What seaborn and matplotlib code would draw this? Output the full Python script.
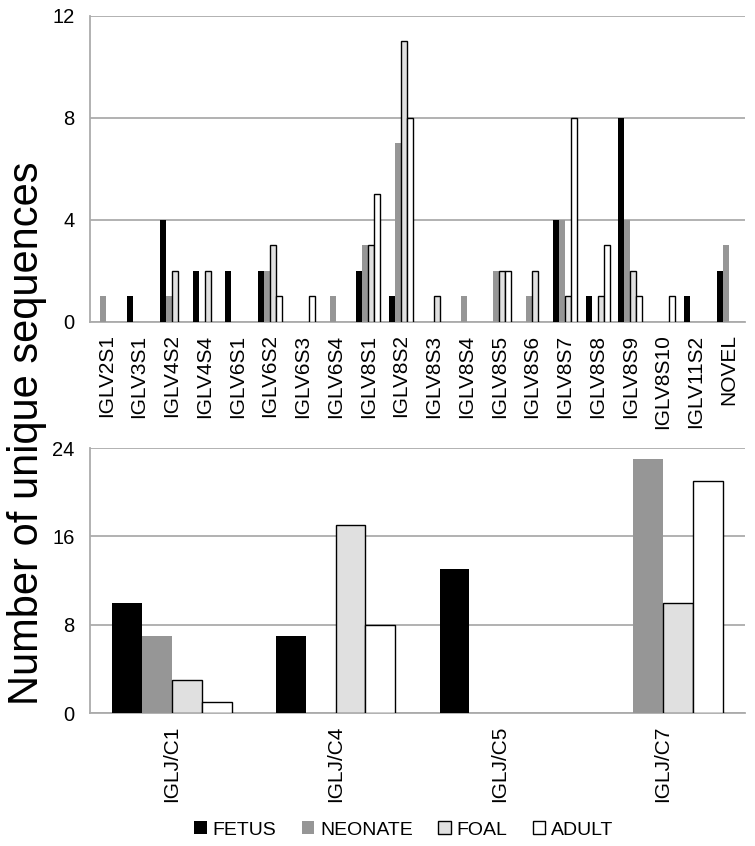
import matplotlib
matplotlib.use('Agg')
import matplotlib.pyplot as plt
from matplotlib.patches import Patch
from matplotlib.ticker import FixedLocator
import numpy as np
import pandas as pd
import seaborn as sns

# chart data
groups = ['FETUS', 'NEONATE', 'FOAL', 'ADULT']

v_genes = ['IGLV2S1', 'IGLV3S1', 'IGLV4S2', 'IGLV4S4', 'IGLV6S1', 'IGLV6S2',
           'IGLV6S3', 'IGLV6S4', 'IGLV8S1', 'IGLV8S2', 'IGLV8S3', 'IGLV8S4',
           'IGLV8S5', 'IGLV8S6', 'IGLV8S7', 'IGLV8S8', 'IGLV8S9', 'IGLV8S10',
           'IGLV11S2', 'NOVEL']
v_fetus = [0, 1, 4, 2, 2, 2, 0, 0, 2, 1, 0, 0, 0, 0, 4, 1, 8, 0, 1, 2]
v_neonate = [1, 0, 1, 0, 0, 2, 0, 1, 3, 7, 0, 1, 2, 1, 4, 0, 4, 0, 0, 3]
v_foal = [0, 0, 2, 2, 0, 3, 0, 0, 3, 11, 1, 0, 2, 2, 1, 1, 2, 0, 0, 0]
v_adult = [0, 0, 0, 0, 0, 1, 1, 0, 5, 8, 0, 0, 2, 0, 8, 3, 1, 1, 0, 0]

j_genes = ['IGLJ/C1', 'IGLJ/C4', 'IGLJ/C5', 'IGLJ/C7']
j_fetus = [10, 7, 13, 0]
j_neonate = [7, 0, 0, 23]
j_foal = [3, 17, 0, 10]
j_adult = [1, 8, 0, 21]

colors = {'FETUS': '#000000', 'NEONATE': '#969696', 'FOAL': '#e0e0e0', 'ADULT': '#ffffff'}
edges = {'FETUS': '#000000', 'NEONATE': '#969696', 'FOAL': '#000000', 'ADULT': '#000000'}
grid_col = '#ababab'


def to_long(cats, series):
    rows = []
    for grp, vals in zip(groups, series):
        for cat, v in zip(cats, vals):
            rows.append({'Gene': cat, 'Group': grp, 'Count': v})
    return pd.DataFrame(rows)


def draw_panel(ax, df, cats, ymax, yticks):
    sns.barplot(data=df, x='Gene', y='Count', hue='Group', order=cats,
                hue_order=groups, palette=colors, width=0.73, gap=0,
                errorbar=None, legend=False, ax=ax, zorder=3)
    for grp, cont in zip(groups, ax.containers):
        for bar in cont:
            if bar.get_height() > 0:
                bar.set_edgecolor(edges[grp])
                bar.set_linewidth(1.0 if grp in ('FOAL', 'ADULT') else 0)
            else:
                bar.set_linewidth(0)
    ax.set_xlim(-0.5, len(cats) - 0.5)
    ax.set_ylim(0, ymax)
    ax.set_yticks(yticks)
    ax.yaxis.grid(True, color=grid_col, linewidth=1.3, zorder=0)
    ax.set_axisbelow(True)
    for s in ['top', 'right']:
        ax.spines[s].set_visible(False)
    for s in ['left', 'bottom']:
        ax.spines[s].set_color(grid_col)
        ax.spines[s].set_linewidth(1.3)
    ax.set_xlabel('')
    ax.set_ylabel('')
    ax.tick_params(axis='x', which='major', length=0, pad=9, labelsize=15,
                   labelrotation=90, labelcolor='black')
    ax.xaxis.set_minor_locator(FixedLocator(np.arange(-0.5, len(cats), 1.0)))
    ax.tick_params(axis='x', which='minor', length=6, color=grid_col, width=1.3)
    ax.tick_params(axis='y', length=6, color=grid_col, width=1.3, labelsize=14.5,
                   pad=5, labelcolor='black')


sns.set_style('white')
plt.rcParams['font.family'] = ['Liberation Sans', 'DejaVu Sans']

fig = plt.figure(figsize=(7.55, 8.46), dpi=100)
ax_top = fig.add_axes([0.1192, 0.6194, 0.8675, 0.3617])
ax_bot = fig.add_axes([0.1192, 0.1572, 0.8675, 0.3132])

df_v = to_long(v_genes, [v_fetus, v_neonate, v_foal, v_adult])
df_j = to_long(j_genes, [j_fetus, j_neonate, j_foal, j_adult])

draw_panel(ax_top, df_v, v_genes, 12, [0, 4, 8, 12])
draw_panel(ax_bot, df_j, j_genes, 24, [0, 8, 16, 24])

fig.text(0.036, 0.488, 'Number of unique sequences', rotation=90,
         ha='center', va='center', fontsize=30, color='black')

handles = [Patch(facecolor=colors[g], edgecolor=edges[g],
                 linewidth=1.0 if g in ('FOAL', 'ADULT') else 0) for g in groups]
fig.legend(handles, groups, loc='center', bbox_to_anchor=(0.535, 0.019), ncol=4,
           frameon=False, fontsize=14, handlelength=0.65, handleheight=0.65,
           handletextpad=0.3, columnspacing=1.3, labelcolor='black')

fig.savefig('out.png', dpi=100)
